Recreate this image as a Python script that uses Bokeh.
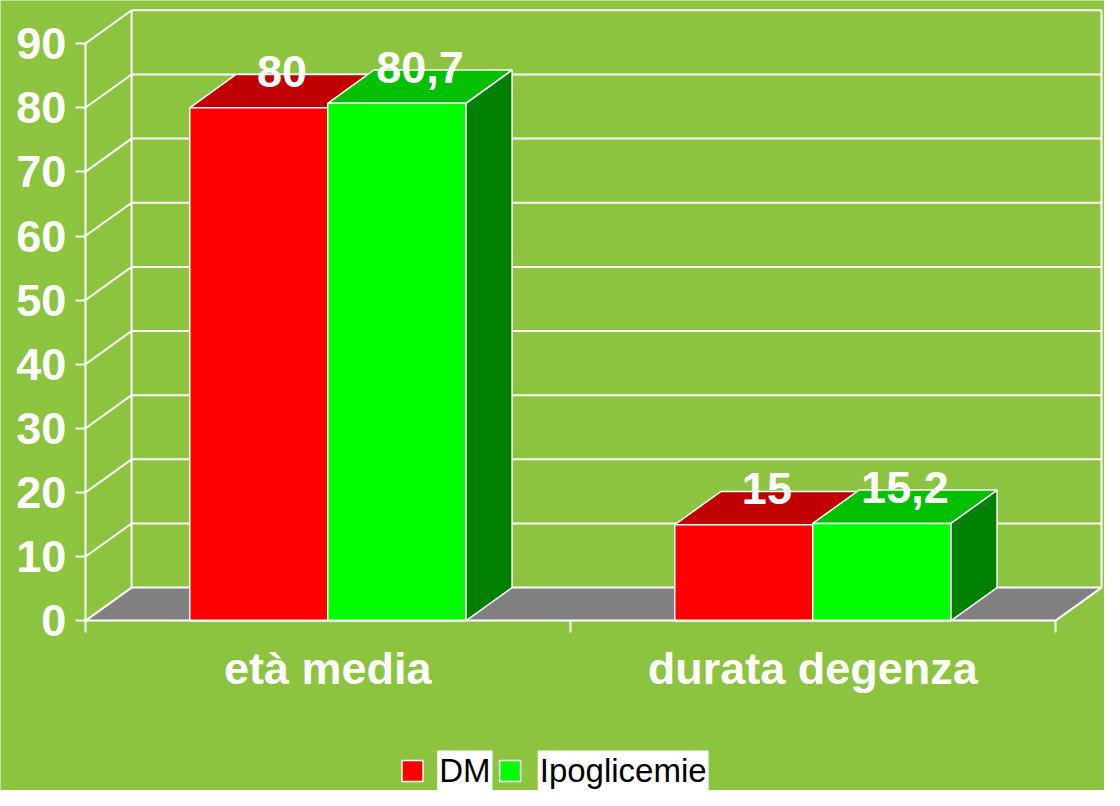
from bokeh.plotting import figure
from bokeh.models import Range1d, LinearAxis, FixedTicker
from bokeh.embed import file_html
from bokeh.resources import INLINE
from bokeh.core.properties import value

# ---------------- data ----------------
categories = ["età media", "durata degenza"]
series_names = ["DM", "Ipoglicemie"]
dm_values = [80, 15]
ipo_values = [80.7, 15.2]
dm_labels = ["80", "15"]
ipo_labels = ["80,7", "15,2"]
y_ticks = [0, 10, 20, 30, 40, 50, 60, 70, 80, 90]

# ---------------- style / geometry ----------------
BG = "#8CC43F"
FONT = "Liberation Sans"
W, H = 1104, 790
SX, SY = W / 1120, H / 806     # reference -> figure pixel scale
X0_PX = 86 * SX                # figure px of x=0
Y0_PX = 633 * SY               # figure px of y=0
PX_X = 492 * SX                # pixels per category unit
PX_Y = (633 - 44) * SY / 90    # pixels per y unit
DX = 47 * SX / PX_X            # 3D depth offset (data units)
DY = 34 * SY / PX_Y
GAP = 106 / 492
BW = 140 / 492
Y_MAX = y_ticks[-1]
NCAT = len(categories)

x_start = -X0_PX / PX_X
x_end = (W - X0_PX) / PX_X
y_end = Y0_PX / PX_Y
y_start = -(H - Y0_PX) / PX_Y


def fx(ref_x):
    return (ref_x * SX - X0_PX) / PX_X


def fy(ref_y):
    return (Y0_PX - ref_y * SY) / PX_Y


p = figure(width=W, height=H, x_range=Range1d(x_start, x_end), y_range=Range1d(y_start, y_end),
           output_backend="svg", toolbar_location=None, min_border=0,
           x_axis_type=None, y_axis_type=None,
           background_fill_color=BG, border_fill_color=BG, outline_line_color=None)

# floor
p.patch([0, NCAT, NCAT + DX, DX], [0, 0, DY, DY], fill_color="#808080", line_color=None)

# back wall grid, diagonals and edges
xs, ys = [], []
for v in y_ticks:
    xs.append([DX, NCAT + DX]); ys.append([v + DY, v + DY])
    xs.append([0, DX]); ys.append([v, v + DY])
xs.append([DX, DX]); ys.append([DY, Y_MAX + DY])
xs.append([NCAT + DX, NCAT + DX]); ys.append([DY, Y_MAX + DY])
xs.append([NCAT, NCAT + DX]); ys.append([0, DY])
p.multi_line(xs, ys, line_color="white", line_width=2)

# bars
series = [
    (dm_values, dm_labels, "#FF0000", "#C00000", "#900000"),
    (ipo_values, ipo_labels, "#00FF00", "#00C000", "#008000"),
]
label_x, label_y, label_t = [], [], []
for s, (vals, labs, c_front, c_top, c_side) in enumerate(series):
    side_x, side_y, top_x, top_y = [], [], [], []
    lefts, rights, tops = [], [], []
    for i, v in enumerate(vals):
        x0 = i + GAP + s * BW
        x1 = x0 + BW
        side_x.append([x1, x1 + DX, x1 + DX, x1]); side_y.append([0, DY, v + DY, v])
        top_x.append([x0, x1, x1 + DX, x0 + DX]); top_y.append([v, v, v + DY, v + DY])
        lefts.append(x0); rights.append(x1); tops.append(v)
        label_x.append((x0 + x1) / 2 + DX / 2); label_y.append(v); label_t.append(labs[i])
    p.patches(side_x, side_y, fill_color=c_side, line_color="white", line_width=1.5)
    p.patches(top_x, top_y, fill_color=c_top, line_color="white", line_width=1.5)
    p.quad(left=lefts, right=rights, bottom=0, top=tops, fill_color=c_front,
           line_color="white", line_width=1.5)

p.text(x=label_x, y=label_y, text=label_t, text_align="center", text_baseline="middle", y_offset=-36,
       text_color="white", text_font=value(FONT), text_font_style="bold",
       text_font_size="45px")

# y axis (front)
yaxis = LinearAxis(fixed_location=0, bounds=(0, Y_MAX), ticker=FixedTicker(ticks=y_ticks, minor_ticks=[]))
yaxis.axis_line_color = "white"
yaxis.axis_line_width = 2
yaxis.major_tick_line_color = "white"
yaxis.major_tick_line_width = 2
yaxis.major_tick_out = 10
yaxis.major_tick_in = 0
yaxis.minor_tick_line_color = None
yaxis.major_label_standoff = 9
yaxis.major_label_text_color = "white"
yaxis.major_label_text_font = FONT
yaxis.major_label_text_font_style = "bold"
yaxis.major_label_text_font_size = "45px"
p.add_layout(yaxis, "left")

# x axis (front floor edge)
cat_ticks = [i + 0.5 for i in range(NCAT)]
xaxis = LinearAxis(fixed_location=0, bounds=(0, NCAT),
                   ticker=FixedTicker(ticks=cat_ticks, minor_ticks=list(range(NCAT + 1))))
xaxis.axis_line_color = "white"
xaxis.axis_line_width = 2
xaxis.major_tick_line_color = None
xaxis.major_tick_out = 0
xaxis.major_tick_in = 0
xaxis.minor_tick_line_color = "white"
xaxis.minor_tick_line_width = 2
xaxis.minor_tick_out = 12
xaxis.minor_tick_in = 0
xaxis.major_label_overrides = {t: c for t, c in zip(cat_ticks, categories)}
xaxis.major_label_standoff = 10
xaxis.major_label_text_color = "white"
xaxis.major_label_text_font = FONT
xaxis.major_label_text_font_style = "bold"
xaxis.major_label_text_font_size = "45px"
p.add_layout(xaxis, "below")

# legend (manual, labels on white boxes)
p.scatter(x=[fx(418), fx(517)], y=[fy(786), fy(786)], marker="square", size=21,
          fill_color=["#FF0000", "#00FF00"], line_color="white", line_width=1.5)
p.text(x=[fx(443), fx(545)], y=[fy(786), fy(786)], text=series_names,
       text_align="left", text_baseline="middle", text_color="black",
       text_font=value(FONT), text_font_size="33px",
       background_fill_color="white", padding=2)

open("out.html", "w").write(file_html(p, INLINE))
